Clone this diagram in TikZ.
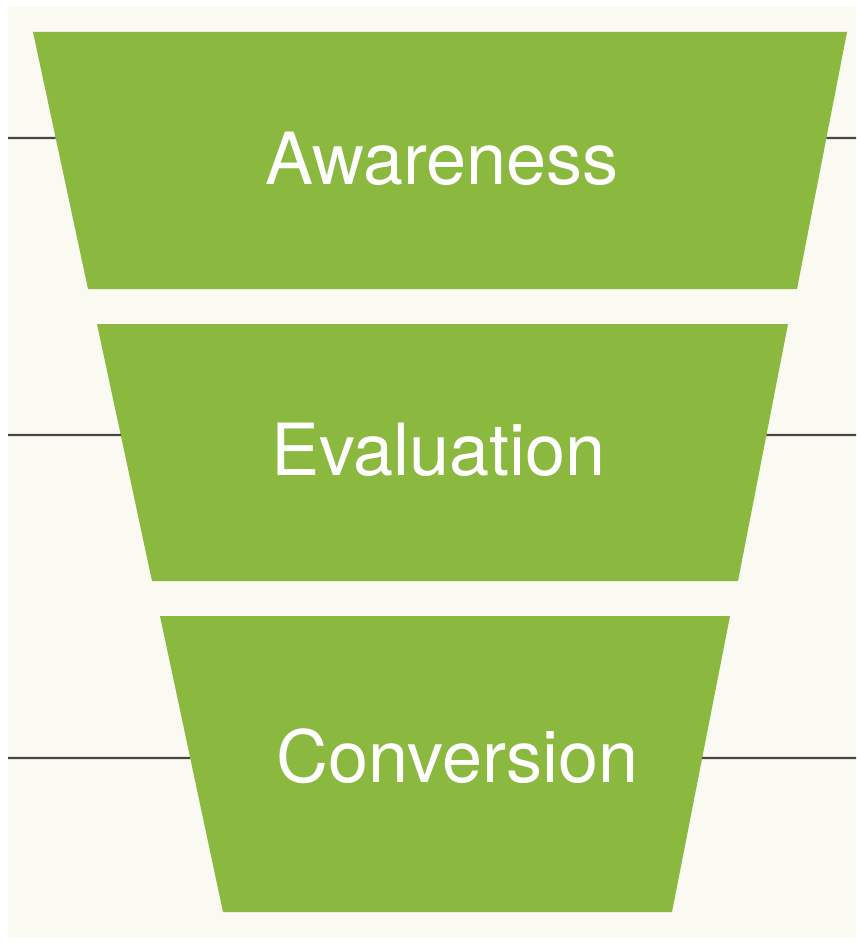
\documentclass[tikz,border=0pt]{standalone}
\usepackage{fontspec}
\setmainfont{TeX Gyre Heros}
\definecolor{funnelgreen}{HTML}{8BB940}
\definecolor{creambg}{HTML}{FAF9F2}
\definecolor{linegray}{HTML}{474747}
\tikzset{
  stage/.style={fill=funnelgreen, draw=none},
  stagetext/.style={text=white, anchor=base, inner sep=0pt, font=\fontsize{72}{72}\selectfont},
  tick/.style={draw=linegray, line width=2.2pt},
}
\begin{document}
\begin{tikzpicture}[x=1pt,y=-1pt]
\useasboundingbox (0,0) rectangle (856,949);
\fill[white] (0,0) rectangle (856,949);
\fill[creambg] (8,7) rectangle (856,937);
% stage 1
\coordinate (a1) at (33,32); \coordinate (a2) at (847,32);
\coordinate (a3) at (797,289); \coordinate (a4) at (88,289);
\path[stage] (a1) -- (a2) -- (a3) -- (a4) -- cycle;
% stage 2
\coordinate (b1) at (97,324); \coordinate (b2) at (788,324);
\coordinate (b3) at (738,581); \coordinate (b4) at (152,581);
\path[stage] (b1) -- (b2) -- (b3) -- (b4) -- cycle;
% stage 3
\coordinate (c1) at (160,616); \coordinate (c2) at (730,616);
\coordinate (c3) at (672,912); \coordinate (c4) at (223,912);
\path[stage] (c1) -- (c2) -- (c3) -- (c4) -- cycle;
% side lines
\coordinate (l1) at (8,138);  \coordinate (r1) at (856,138);
\coordinate (l2) at (8,435);  \coordinate (r2) at (856,435);
\coordinate (l3) at (8,758);  \coordinate (r3) at (856,758);
\path (a1) -- (a4) coordinate[pos=0.41245] (a1e);
\path (a2) -- (a3) coordinate[pos=0.41245] (a2e);
\path (b1) -- (b4) coordinate[pos=0.43191] (b1e);
\path (b2) -- (b3) coordinate[pos=0.43191] (b2e);
\path (c1) -- (c4) coordinate[pos=0.47973] (c1e);
\path (c2) -- (c3) coordinate[pos=0.47973] (c2e);
\draw[tick] (l1) -- (a1e); \draw[tick] (a2e) -- (r1);
\draw[tick] (l2) -- (b1e); \draw[tick] (b2e) -- (r2);
\draw[tick] (l3) -- (c1e); \draw[tick] (c2e) -- (r3);
% labels
\node[stagetext] (t1) at (442,185) {Awareness};
\node[stagetext] (t2) at (438.5,475) {Evaluation};
\node[stagetext] (t3) at (457.5,782) {Conversion};
\end{tikzpicture}
\end{document}
